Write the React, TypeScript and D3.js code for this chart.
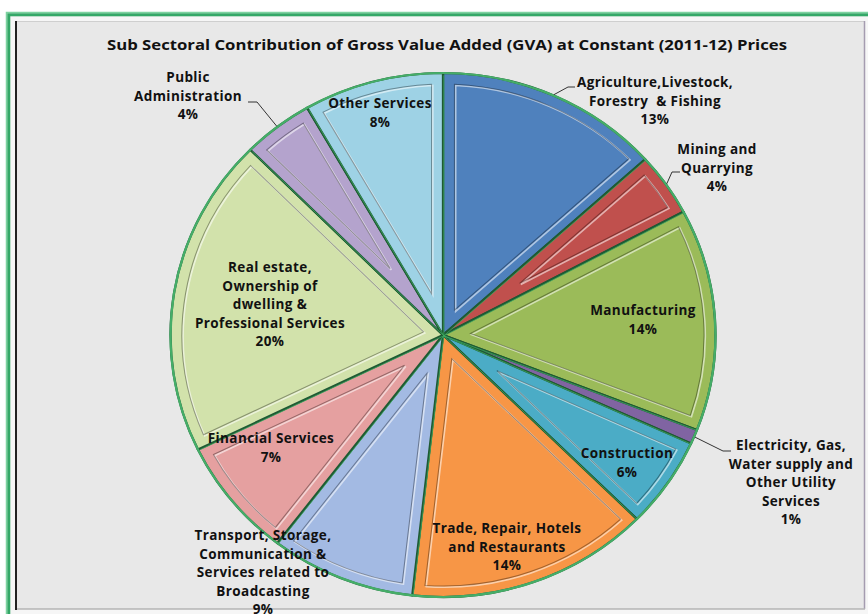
import React from "react";
import * as d3 from "d3";

const W = 868;
const H = 614;

const TITLE = "Sub Sectoral Contribution of Gross Value Added (GVA) at Constant (2011-12) Prices";

const sectors = [
  "Agriculture,Livestock,|Forestry  & Fishing",
  "Mining and|Quarrying",
  "Manufacturing",
  "Electricity, Gas,|Water supply and|Other Utility|Services",
  "Construction",
  "Trade, Repair, Hotels|and Restaurants",
  "Transport, Storage,|Communication &|Services related to|Broadcasting",
  "Financial Services",
  "Real estate,|Ownership of|dwelling &|Professional Services",
  "Public|Administration",
  "Other Services",
];

const shares = [13.3, 3.9, 13.7, 0.9, 5.6, 14.4, 8.6, 7.4, 19.7, 4.2, 8.3];

const colors = [
  "#4f81bd", "#c0504d", "#9bbb59", "#8064a2", "#4bacc6", "#f79646",
  "#a3bae3", "#e5a0a0", "#d2e2ab", "#b4a3cd", "#9ed2e5",
];

// label anchor (centre of first line) – layout only
const labelPos: [number, number][] = [
  [655, 82], [717, 149], [643, 310], [791, 445], [627, 453], [507, 528],
  [263, 535], [271, 438], [270, 267], [188, 77], [380, 103],
];
// leader elbows for outside labels (index -> [elbowX, elbowY, endX])
const leaders: Record<number, [number, number, number]> = {
  0: [568, 87, 575],
  1: [672, 172, 680],
  3: [723, 451, 731],
  9: [257, 102, 248],
};

const CX = 443;
const CY = 335;
const R = 262;
const SX = 1.04;
const LINE_H = 18.5;

function pt(a: number, r: number): [number, number] {
  return [Math.sin(a) * r, -Math.cos(a) * r];
}

function insetPath(a0: number, a1: number, d: number): string | null {
  const half = (a1 - a0) / 2;
  const s = d / Math.sin(half);
  const Rp = R - d;
  if (s > Rp - 12) return null;
  const bis = (a0 + a1) / 2;
  const A = pt(bis, s);
  const solve = (a: number) => {
    const u = pt(a, 1);
    const dot = A[0] * u[0] + A[1] * u[1];
    const t = -dot + Math.sqrt(dot * dot - (s * s - Rp * Rp));
    return [A[0] + t * u[0], A[1] + t * u[1]];
  };
  const p0 = solve(a0);
  const p1 = solve(a1);
  return `M${A[0]},${A[1]}L${p0[0]},${p0[1]}A${Rp},${Rp} 0 0 1 ${p1[0]},${p1[1]}Z`;
}

export default function App() {
  const data = sectors.map((s, i) => ({ name: s, value: shares[i], color: colors[i] }));
  const total = d3.sum(shares);
  const pie = d3.pie<any>().sort(null).value((d) => d.value);
  const arcs = pie(data);
  const arc = d3.arc<any>().innerRadius(0).outerRadius(R);
  const font = "'Open Sans', Lato, sans-serif";

  return (
    <svg width={W} height={H} style={{ position: "fixed", left: 0, top: 0, background: "#fff" }}>
      {/* frame */}
      <rect x={6.5} y={12.5} width={W + 20} height={H + 20} fill="#f6f6f6" stroke="#7dd3a0" strokeWidth={1.5} />
      <rect x={8.8} y={14.8} width={W + 20} height={H + 20} fill="none" stroke="#34a867" strokeWidth={3} />
      <rect x={15} y={21} width={850} height={588} fill="#e8e8e8" />
      <line x1={15} y1={21.5} x2={865} y2={21.5} stroke="#cfcfcf" strokeWidth={1} />
      <line x1={864.5} y1={21} x2={864.5} y2={609} stroke="#a59cb0" strokeWidth={1.5} />
      <line x1={15} y1={609} x2={865} y2={609} stroke="#b5b5b5" strokeWidth={1.5} />
      <line x1={16} y1={21} x2={16} y2={610} stroke="#222" strokeWidth={2} />

      <text x={447} y={44} textAnchor="middle" dominantBaseline="central" fontFamily={font}
        fontWeight="bold" fontSize={14} fill="#111" textLength={680} lengthAdjust="spacingAndGlyphs">
        {TITLE}
      </text>

      <g transform={`translate(${CX},${CY}) scale(${SX},1)`}>
        {arcs.map((a, i) => {
          const inner = insetPath(a.startAngle, a.endAngle, 11);
          return (
            <g key={i}>
              <path d={arc(a) as string} fill={a.data.color} stroke="#1f5a34" strokeWidth={2.2} strokeLinejoin="round" />
              {inner && (
                <>
                  <path d={inner} fill="none" stroke="rgba(255,255,255,0.55)" strokeWidth={1.6} transform="translate(1.2,1.2)" />
                  <path d={inner} fill="none" stroke="rgba(0,0,0,0.35)" strokeWidth={1} />
                </>
              )}
            </g>
          );
        })}
        {arcs.map((a, i) => {
          const p0 = pt(a.startAngle, R - 1.5);
          return (
            <line key={"l" + i} x1={0} y1={0} x2={p0[0]} y2={p0[1]} stroke="#3fae63" strokeWidth={0.9} transform="translate(0.8,0.8)" opacity={0.8} />
          );
        })}
        <circle r={R} fill="none" stroke="#45ad68" strokeWidth={2.2} />
      </g>

      {/* leader lines */}
      {arcs.map((a, i) => {
        const l = leaders[i];
        if (!l) return null;
        const mid = (a.startAngle + a.endAngle) / 2;
        const p = pt(mid, R + 1);
        const sx = CX + p[0] * SX;
        const sy = CY + p[1];
        return (
          <polyline key={"ld" + i} points={`${sx},${sy} ${l[0]},${l[1]} ${l[2]},${l[1]}`}
            fill="none" stroke="#333" strokeWidth={1} />
        );
      })}

      {/* labels */}
      {arcs.map((a, i) => {
        const lines = a.data.name.split("|");
        lines.push(`${Math.round((a.data.value / total) * 100)}%`);
        const [lx, ly] = labelPos[i];
        return (
          <text key={"t" + i} textAnchor="middle" fontFamily={font} fontWeight="bold" fontSize={13.5}
            letterSpacing={0.4} fill="#111">
            {lines.map((ln: string, j: number) => (
              <tspan key={j} x={lx} y={ly + j * LINE_H} dominantBaseline="central" style={{ whiteSpace: "pre" }}>
                {ln}
              </tspan>
            ))}
          </text>
        );
      })}
    </svg>
  );
}
